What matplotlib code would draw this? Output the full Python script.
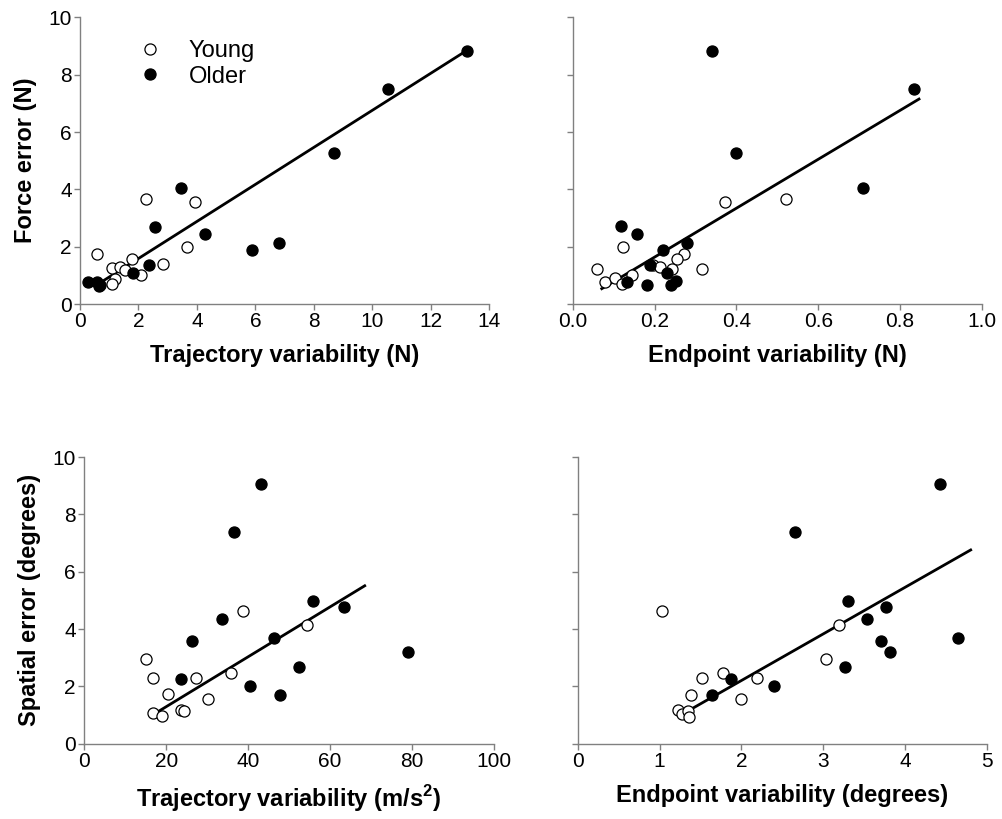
import matplotlib
matplotlib.use('Agg')

import numpy as np
import matplotlib.pyplot as plt

plt.rcParams['font.family'] = ['Liberation Sans', 'DejaVu Sans']

# panel A: force error vs trajectory variability (N)
trajA_young = [2.26, 3.94, 3.65, 0.57, 2.85, 1.77, 1.08, 1.37, 1.20, 1.08, 2.09, 1.54]
forceA_young = [3.66, 3.55, 1.99, 1.73, 1.38, 1.57, 1.24, 1.30, 0.86, 0.69, 1.01, 1.19]
trajA_older = [13.26, 10.55, 8.69, 3.45, 2.57, 4.28, 5.88, 6.81, 2.36, 1.81, 0.28, 0.59, 0.64, 0.68]
forceA_older = [8.83, 7.49, 5.26, 4.05, 2.70, 2.43, 1.88, 2.14, 1.35, 1.08, 0.78, 0.78, 0.62, 0.66]
fitA_x = [0.78, 13.26]
fitA_y = [0.80, 8.86]

# panel B: force error vs endpoint variability (N)
endB_young = [0.373, 0.520, 0.124, 0.060, 0.316, 0.272, 0.254, 0.079, 0.103, 0.120, 0.144, 0.197, 0.213, 0.242]
forceB_young = [3.55, 3.66, 1.98, 1.21, 1.21, 1.73, 1.56, 0.78, 0.90, 0.70, 1.01, 1.36, 1.30, 1.21]
endB_older = [0.340, 0.833, 0.400, 0.710, 0.117, 0.158, 0.221, 0.278, 0.189, 0.231, 0.132, 0.181, 0.239, 0.252]
forceB_older = [8.83, 7.49, 5.26, 4.05, 2.72, 2.44, 1.88, 2.14, 1.36, 1.09, 0.78, 0.66, 0.66, 0.80]
fitB_x = [0.071, 0.846]
fitB_y = [0.535, 7.15]

# panel C: spatial error vs trajectory variability (m/s^2)
trajC_young = [38.8, 54.5, 15.1, 16.7, 27.3, 35.8, 20.5, 30.3, 16.9, 18.9, 23.6, 24.4]
spatC_young = [4.64, 4.15, 2.95, 2.28, 2.30, 2.46, 1.72, 1.55, 1.07, 0.96, 1.19, 1.14]
trajC_older = [43.1, 36.6, 55.9, 63.4, 33.7, 46.3, 26.3, 79.1, 52.4, 23.7, 40.6, 47.8]
spatC_older = [9.05, 7.40, 4.99, 4.78, 4.36, 3.70, 3.58, 3.20, 2.66, 2.25, 2.01, 1.70]
fitC_x = [17.0, 68.5]
fitC_y = [1.03, 5.51]

# panel D: spatial error vs endpoint variability (degrees)
endD_young = [1.03, 3.19, 3.03, 1.52, 2.19, 1.77, 1.38, 2.00, 1.23, 1.27, 1.35, 1.36]
spatD_young = [4.64, 4.15, 2.95, 2.28, 2.30, 2.48, 1.70, 1.56, 1.17, 1.05, 1.15, 0.94]
endD_older = [4.42, 2.66, 3.30, 3.77, 3.53, 4.64, 3.71, 3.81, 3.26, 1.87, 2.40, 1.64]
spatD_older = [9.06, 7.40, 4.99, 4.78, 4.35, 3.70, 3.58, 3.20, 2.66, 2.26, 2.01, 1.70]
fitD_x = [1.24, 4.80]
fitD_y = [0.97, 6.76]

grey = '#808080'

def style_axis(ax, xlim, xticks, xfmt, show_ylabels):
    ax.set_xlim(xlim)
    ax.set_ylim(0, 10)
    ax.set_xticks(xticks)
    ax.set_xticklabels([xfmt % t for t in xticks])
    ax.set_yticks([0, 2, 4, 6, 8, 10])
    if not show_ylabels:
        ax.set_yticklabels([])
    for s in ['top', 'right']:
        ax.spines[s].set_visible(False)
    for s in ['left', 'bottom']:
        ax.spines[s].set_color(grey)
        ax.spines[s].set_linewidth(1.0)
    ax.tick_params(direction='out', length=4, width=1.0, color=grey,
                   labelsize=15, pad=2)

def draw(ax, xy, xo, yo, fx, fy):
    ax.plot(xy[0], xy[1], 'o', ms=8, mfc='white', mec='black', mew=0.9,
            label='Young', clip_on=False, zorder=3)
    ax.plot(xo, yo, 'o', ms=8, mfc='black', mec='black', mew=0.9,
            label='Older', clip_on=False, zorder=3)
    ax.plot(fx, fy, '-', color='black', lw=2.0, zorder=2)

fig = plt.figure(figsize=(10.03, 8.19), dpi=100)
axA = fig.add_axes([0.0798, 0.6288, 0.4078, 0.350])
axB = fig.add_axes([0.5710, 0.6288, 0.4081, 0.350])
axC = fig.add_axes([0.0840, 0.0919, 0.4082, 0.350])
axD = fig.add_axes([0.5760, 0.0919, 0.4081, 0.350])

draw(axA, (trajA_young, forceA_young), trajA_older, forceA_older, fitA_x, fitA_y)
draw(axB, (endB_young, forceB_young), endB_older, forceB_older, fitB_x, fitB_y)
draw(axC, (trajC_young, spatC_young), trajC_older, spatC_older, fitC_x, fitC_y)
draw(axD, (endD_young, spatD_young), endD_older, spatD_older, fitD_x, fitD_y)

style_axis(axA, (0, 14), [0, 2, 4, 6, 8, 10, 12, 14], '%d', True)
style_axis(axB, (0, 1.0), [0.0, 0.2, 0.4, 0.6, 0.8, 1.0], '%.1f', False)
style_axis(axC, (0, 100), [0, 20, 40, 60, 80, 100], '%d', True)
style_axis(axD, (0, 5), [0, 1, 2, 3, 4, 5], '%d', False)

lab = dict(fontsize=17, fontweight='bold')
axA.set_xlabel('Trajectory variability (N)', labelpad=9, **lab)
axB.set_xlabel('Endpoint variability (N)', labelpad=9, **lab)
axC.set_xlabel(r'Trajectory variability (m/s$^\mathregular{2}$)', labelpad=9, **lab)
axD.set_xlabel('Endpoint variability (degrees)', labelpad=9, **lab)
axA.set_ylabel('Force error (N)', labelpad=8, **lab)
axC.set_ylabel('Spatial error (degrees)', labelpad=8, **lab)

axA.legend(loc='upper left', bbox_to_anchor=(0.075, 0.995), frameon=False,
           fontsize=17, handletextpad=0.9, labelspacing=0.15, numpoints=1,
           handlelength=1.5)

fig.savefig('out.png', dpi=100)
